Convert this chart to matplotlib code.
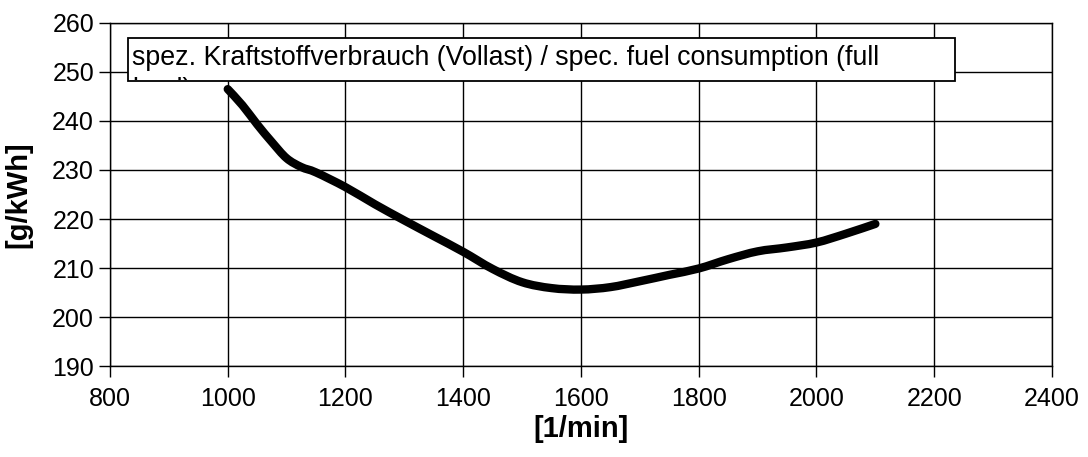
import matplotlib
matplotlib.use("Agg")
import numpy as np
import matplotlib.pyplot as plt
from matplotlib.patches import Rectangle, PathPatch
from matplotlib.path import Path
from matplotlib.transforms import Bbox, TransformedBbox

# Drehzahl [1/min] und spez. Verbrauch [g/kWh]
drehzahl = [1000, 1025, 1050, 1075, 1100, 1125, 1150, 1200, 1250, 1300, 1350, 1400, 1450,
            1500, 1550, 1600, 1650, 1700, 1750, 1800, 1850, 1900, 1950, 2000, 2050, 2100]
verbrauch = [246.5, 243.2, 239.3, 235.7, 232.4, 230.6, 229.5, 226.5, 223.0, 219.7, 216.5,
             213.3, 209.8, 207.1, 205.9, 205.6, 206.1, 207.3, 208.6, 209.9, 211.8, 213.4,
             214.2, 215.2, 217.0, 219.0]

x_ticks = [800, 1000, 1200, 1400, 1600, 1800, 2000, 2200, 2400]
y_ticks = [190, 200, 210, 220, 230, 240, 250, 260]
titel = "spez. Kraftstoffverbrauch (Vollast) / spec. fuel consumption (full\nload)"

plt.rcParams['font.family'] = ['Liberation Sans', 'DejaVu Sans']


# geglaettete Linie wie in Excel (Bezier durch die Messpunkte)
def glatte_linie(x, y, k=1 / 6):
    p = np.column_stack([x, y]).astype(float)
    verts = [p[0]]
    codes = [Path.MOVETO]
    for i in range(len(p) - 1):
        p0 = p[max(i - 1, 0)]
        p3 = p[min(i + 2, len(p) - 1)]
        c1 = p[i] + (p[i + 1] - p0) * k
        c2 = p[i + 1] - (p3 - p[i]) * k
        verts += [c1, c2, p[i + 1]]
        codes += [Path.CURVE4] * 3
    return Path(verts, codes)


fig = plt.figure(figsize=(10.88, 4.57), dpi=100)
ax = fig.add_axes([0.1011, 0.1991, 0.8658, 0.7506])

linie = PathPatch(glatte_linie(drehzahl, verbrauch), facecolor='none', edgecolor='black',
                  lw=6, capstyle='round', joinstyle='round', zorder=3)
ax.add_patch(linie)

ax.set_xlim(800, 2400)
ax.set_ylim(190, 260)
ax.set_xticks(x_ticks)
ax.set_yticks(y_ticks)
ax.grid(True, color='black', lw=1)
ax.tick_params(direction='out', length=8, width=1, labelsize=18)
ax.tick_params(axis='x', pad=7)
for s in ax.spines.values():
    s.set_linewidth(1)

ax.set_xlabel("[1/min]", fontsize=21, fontweight='bold', labelpad=3)
ax.set_ylabel("[g/kWh]", fontsize=21, fontweight='bold', labelpad=14)

# Textfeld (abgeschnitten wie im Original)
x0, x1, y0, y1 = 830.6, 2235, 248.2, 256.9
box = Rectangle((x0, y0), x1 - x0, y1 - y0, facecolor='white',
                edgecolor='black', lw=1.3, zorder=5)
ax.add_patch(box)
t = ax.text(838, 255.6, titel, fontsize=19.3, va='top', ha='left', zorder=6,
            linespacing=1.3)
t.set_clip_on(True)
t.set_clip_box(TransformedBbox(Bbox([[x0, y0 + 0.15], [x1, y1]]), ax.transData))

fig.savefig("out.png", dpi=100)
